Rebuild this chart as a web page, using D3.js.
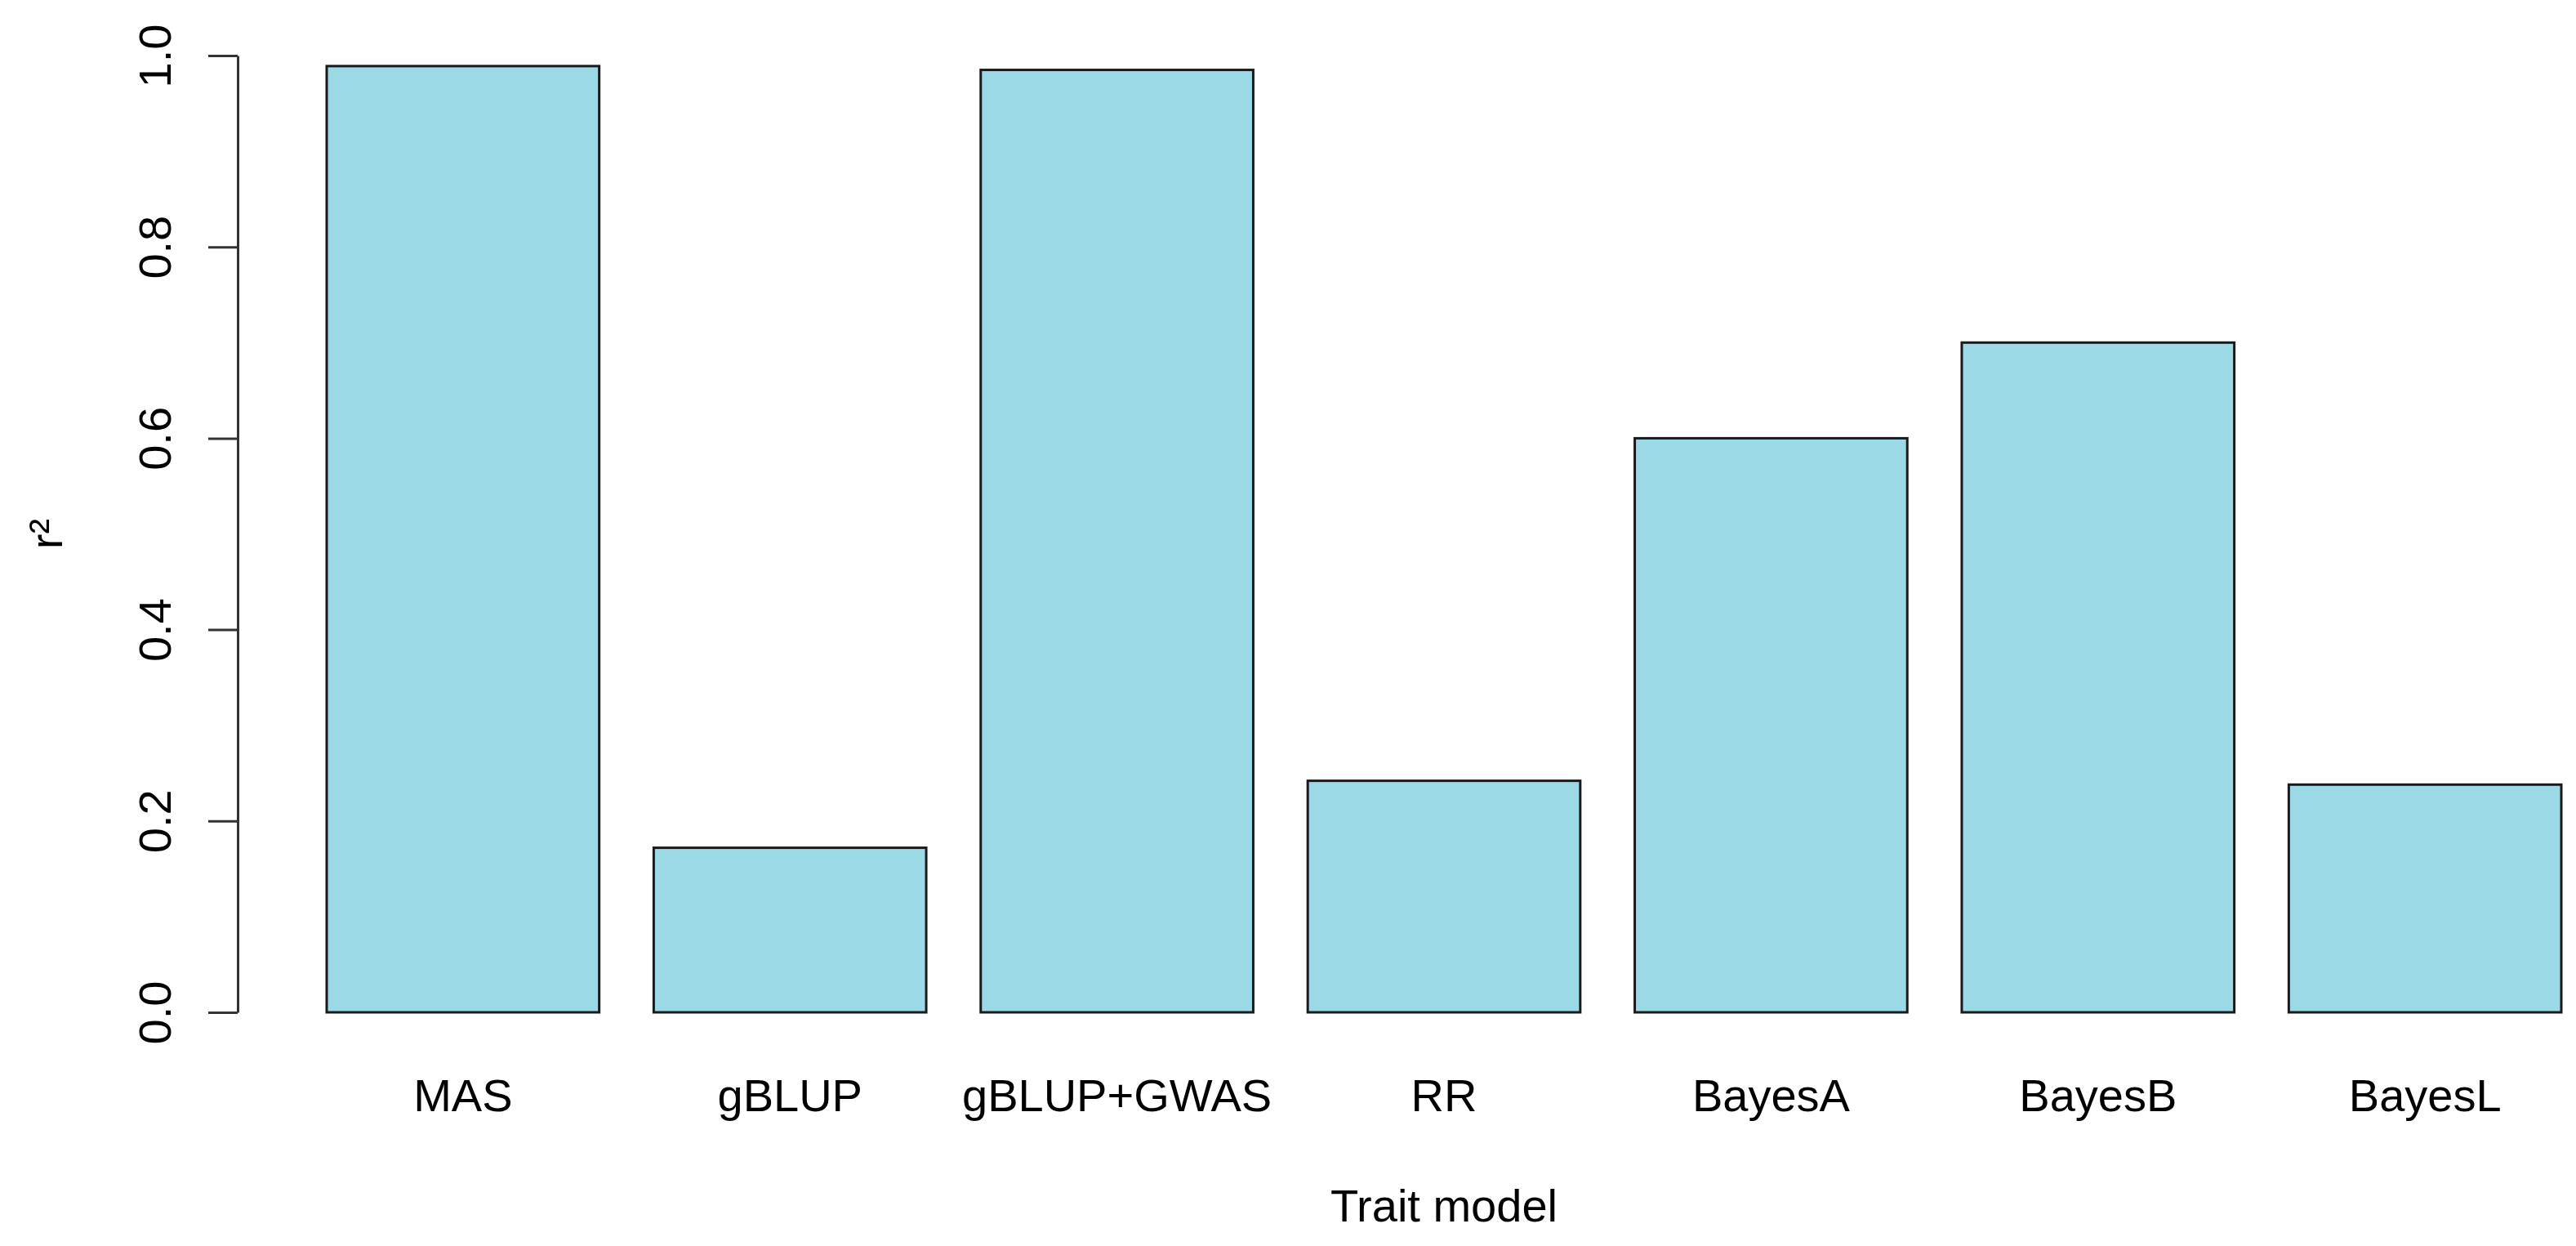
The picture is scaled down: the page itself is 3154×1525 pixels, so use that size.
<!DOCTYPE html>
<html>
<head>
<meta charset="utf-8">
<script src="https://cdn.jsdelivr.net/npm/d3@7"></script>
<style>
  html, body { margin: 0; padding: 0; background: #ffffff; }
  svg { display: block; }
  text { font-family: "Liberation Sans", Arial, Helvetica, sans-serif; fill: #000; }
</style>
</head>
<body>
<svg id="chart" width="3154" height="1525"></svg>
<script>
// ---- data ----
const categories = ["MAS", "gBLUP", "gBLUP+GWAS", "RR", "BayesA", "BayesB", "BayesL"];
const values = [0.989, 0.172, 0.985, 0.242, 0.600, 0.700, 0.238];
const yTicks = [0.0, 0.2, 0.4, 0.6, 0.8, 1.0];
const xTitle = "Trait model";
const yTitle = "r²";

// ---- layout ----
const W = 3154, H = 1525;
const barLeft = 400, barRight = 3136;      // outer edges of first/last bar
const plotLeft = 291, plotRight = 3245;    // R plot region (right side cropped)
const y0px = 1239, y1px = 68;
const fontSize = 56;

const svg = d3.select("#chart");
svg.append("rect").attr("width", W).attr("height", H).attr("fill", "#ffffff");

const step = (barRight - barLeft) / (categories.length - 1 / 6);
const x = d3.scaleBand()
  .domain(categories)
  .range([barLeft - step / 12, barRight + step / 12])
  .paddingInner(1 / 6)
  .paddingOuter(1 / 12)
  .align(0.5);

const y = d3.scaleLinear().domain([0, 1]).range([y0px, y1px]);

// bars
svg.append("g").selectAll("rect")
  .data(categories.map((c, i) => ({ c, v: values[i] })))
  .join("rect")
  .attr("x", d => x(d.c))
  .attr("width", x.bandwidth())
  .attr("y", d => y(d.v))
  .attr("height", d => y(0) - y(d.v))
  .attr("fill", "#9ad9e5")
  .attr("stroke", "#1a1a1a")
  .attr("stroke-width", 3);

// y axis
const yAxis = d3.axisLeft(y)
  .tickValues(yTicks)
  .tickFormat(d3.format(".1f"))
  .tickSizeInner(36)
  .tickSizeOuter(0)
  .tickPadding(0);

const gy = svg.append("g")
  .attr("transform", `translate(${plotLeft},0)`)
  .call(yAxis);
gy.select(".domain").attr("stroke", "#333").attr("stroke-width", 3);
gy.selectAll(".tick line").attr("stroke", "#333").attr("stroke-width", 3);
gy.selectAll(".tick text")
  .attr("x", null).attr("dy", null)
  .attr("text-anchor", "middle")
  .attr("transform", `translate(${209 - plotLeft},0) rotate(-90)`)
  .attr("font-size", fontSize)
  .attr("font-family", "'Liberation Sans', Arial, sans-serif")
  .attr("fill", "#000");

// x category labels
const xAxis = d3.axisBottom(x).tickSize(0).tickPadding(0);
const gx = svg.append("g")
  .attr("transform", `translate(0,${y0px})`)
  .call(xAxis);
gx.select(".domain").remove();
gx.selectAll(".tick text")
  .attr("y", 1360 - y0px).attr("dy", null)
  .attr("font-size", fontSize)
  .attr("font-family", "'Liberation Sans', Arial, sans-serif")
  .attr("fill", "#000");

// axis titles
svg.append("text")
  .attr("x", (plotLeft + plotRight) / 2)
  .attr("y", 1495)
  .attr("text-anchor", "middle")
  .attr("font-size", fontSize)
  .text(xTitle);

svg.append("text")
  .attr("transform", `translate(76,${(y0px + y1px) / 2}) rotate(-90)`)
  .attr("text-anchor", "middle")
  .attr("font-size", fontSize)
  .text(yTitle);
</script>
</body>
</html>
